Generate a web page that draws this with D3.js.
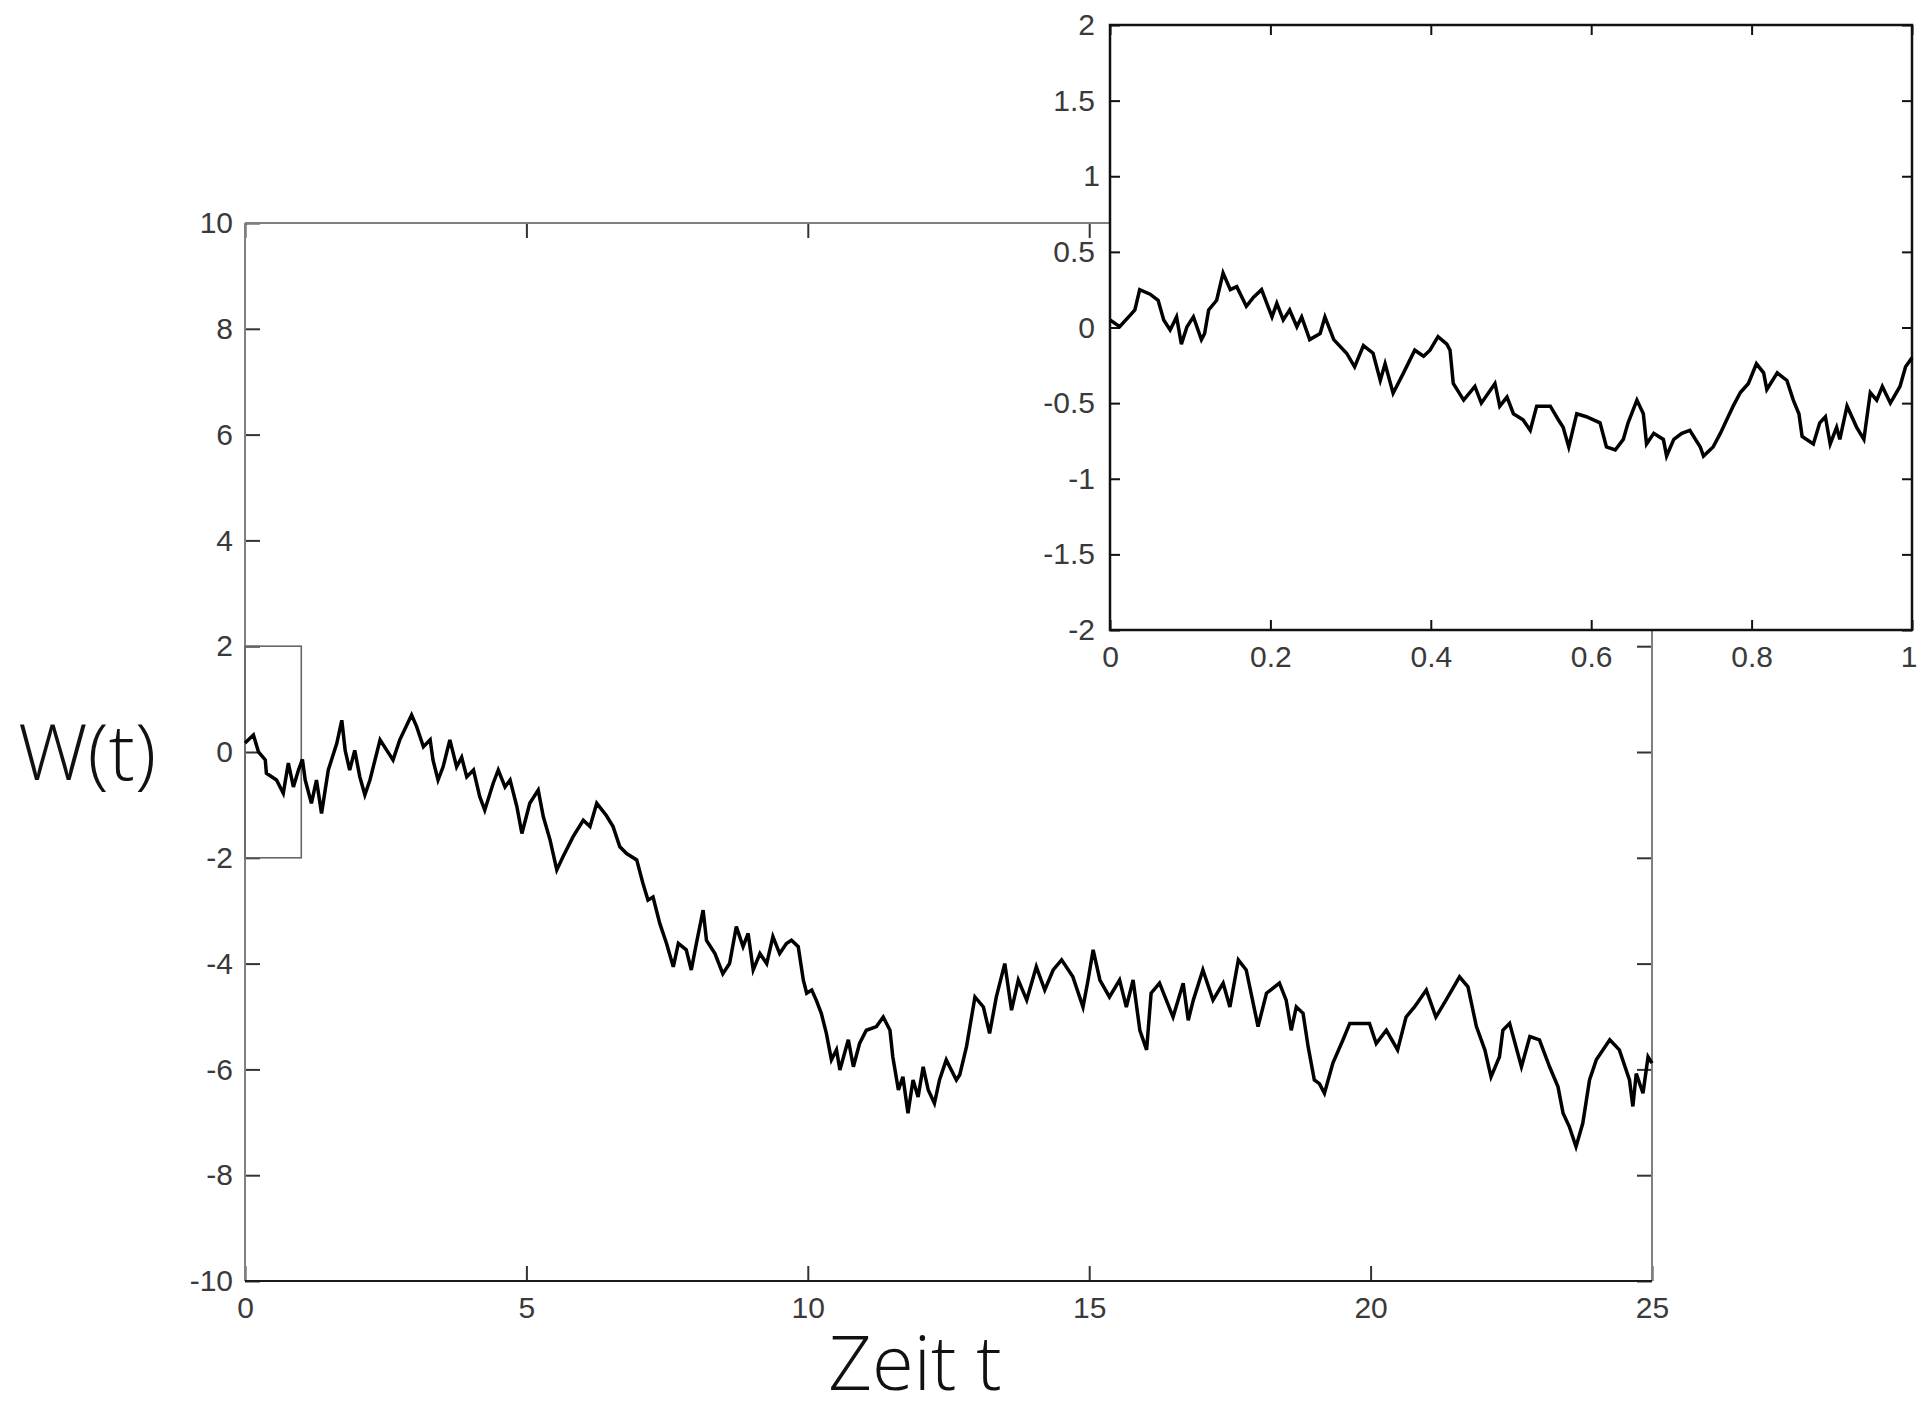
<!DOCTYPE html>
<html>
<head>
<meta charset="utf-8">
<script src="https://cdn.jsdelivr.net/npm/d3@7"></script>
<style>
  html, body { margin: 0; padding: 0; background: #fff; }
  svg { display: block; }
  .tick text { font-family: "Liberation Sans", Arial, sans-serif; font-size: 30px; fill: #3a3a3a; }
  .axis-title { font-family: "Open Sans", Roboto, sans-serif; font-weight: 300; fill: #111; }
</style>
</head>
<body>
<svg id="chart" width="1918" height="1413"></svg>
<script>
// Brownsche Bewegung W(t) auf [0, 25] mit Ausschnitt [0, 1] als Inset.

const mainT = [
  0, 0.15, 0.24, 0.36, 0.38, 0.56, 0.68, 0.77, 0.86, 0.95, 1.02, 1.07, 1.18, 1.27, 1.36, 1.48,
  1.63, 1.72, 1.78, 1.86, 1.95, 2.04, 2.13, 2.22, 2.4, 2.52, 2.63, 2.75, 2.96, 3.05, 3.17, 3.29,
  3.34, 3.43, 3.52, 3.64, 3.76, 3.85, 3.94, 4.06, 4.17, 4.26, 4.41, 4.5, 4.62, 4.71, 4.83, 4.92,
  5.06, 5.21, 5.3, 5.42, 5.54, 5.65, 5.83, 6.01, 6.13, 6.25, 6.42, 6.54, 6.66, 6.78, 6.96, 7.07,
  7.16, 7.25, 7.37, 7.49, 7.61, 7.7, 7.84, 7.93, 8.02, 8.14, 8.2, 8.35, 8.49, 8.61, 8.73, 8.85,
  8.94, 9.03, 9.15, 9.27, 9.38, 9.5, 9.62, 9.71, 9.83, 9.92, 9.98, 10.07, 10.15, 10.24, 10.33, 10.42,
  10.51, 10.57, 10.72, 10.81, 10.92, 11.04, 11.22, 11.34, 11.46, 11.51, 11.61, 11.69, 11.78, 11.87, 11.96, 12.05,
  12.14, 12.25, 12.34, 12.46, 12.55, 12.64, 12.7, 12.82, 12.97, 13.12, 13.23, 13.35, 13.5, 13.62, 13.74, 13.89,
  14.06, 14.21, 14.36, 14.51, 14.71, 14.89, 14.98, 15.07, 15.19, 15.36, 15.54, 15.66, 15.78, 15.9, 16.02, 16.1,
  16.25, 16.49, 16.67, 16.76, 16.85, 17.02, 17.2, 17.38, 17.5, 17.65, 17.79, 18.0, 18.15, 18.38, 18.5, 18.59,
  18.68, 18.8, 18.89, 19.0, 19.09, 19.18, 19.33, 19.51, 19.63, 19.98, 20.1, 20.28, 20.48, 20.63, 20.78, 20.99,
  21.16, 21.34, 21.58, 21.73, 21.88, 22.03, 22.14, 22.29, 22.35, 22.47, 22.68, 22.83, 23.0, 23.18, 23.33, 23.42,
  23.53, 23.65, 23.77, 23.89, 24.01, 24.25, 24.42, 24.6, 24.66, 24.72, 24.84, 24.93, 25.0
];
const mainW = [
  0.17, 0.32, 0.0, -0.15, -0.4, -0.53, -0.78, -0.21, -0.66, -0.34, -0.14, -0.53, -0.97, -0.53, -1.16, -0.34,
  0.16, 0.6, 0.03, -0.34, 0.03, -0.47, -0.81, -0.53, 0.23, 0.03, -0.15, 0.23, 0.7, 0.48, 0.1, 0.23,
  -0.15, -0.53, -0.28, 0.23, -0.28, -0.1, -0.47, -0.34, -0.84, -1.1, -0.59, -0.34, -0.66, -0.53, -1.03, -1.54,
  -0.97, -0.72, -1.22, -1.66, -2.23, -1.98, -1.6, -1.29, -1.41, -0.97, -1.2, -1.41, -1.79, -1.92, -2.04, -2.48,
  -2.8, -2.74, -3.24, -3.62, -4.06, -3.62, -3.74, -4.12, -3.62, -2.99, -3.56, -3.81, -4.19, -4.0, -3.3, -3.68,
  -3.43, -4.12, -3.81, -4.0, -3.49, -3.81, -3.62, -3.56, -3.68, -4.31, -4.56, -4.5, -4.69, -4.94, -5.32, -5.82,
  -5.63, -6.01, -5.44, -5.95, -5.51, -5.26, -5.19, -5.01, -5.26, -5.76, -6.39, -6.14, -6.83, -6.2, -6.52, -5.95,
  -6.39, -6.64, -6.2, -5.82, -6.01, -6.2, -6.1, -5.57, -4.63, -4.82, -5.32, -4.63, -4.0, -4.88, -4.31, -4.69,
  -4.06, -4.5, -4.12, -3.93, -4.25, -4.82, -4.31, -3.74, -4.31, -4.63, -4.31, -4.82, -4.31, -5.26, -5.63, -4.56,
  -4.37, -5.01, -4.37, -5.07, -4.69, -4.12, -4.69, -4.37, -4.82, -3.93, -4.12, -5.19, -4.56, -4.37, -4.69, -5.26,
  -4.82, -4.94, -5.57, -6.2, -6.27, -6.45, -5.88, -5.44, -5.13, -5.13, -5.51, -5.26, -5.63, -5.01, -4.82, -4.5,
  -5.01, -4.69, -4.25, -4.44, -5.19, -5.63, -6.14, -5.76, -5.26, -5.13, -5.95, -5.38, -5.44, -5.95, -6.33, -6.83,
  -7.08, -7.46, -7.02, -6.2, -5.82, -5.44, -5.63, -6.2, -6.7, -6.08, -6.45, -5.76, -5.88
];

const insetT = [
  0, 0.012, 0.025, 0.031, 0.037, 0.05, 0.06, 0.067, 0.075, 0.083, 0.089, 0.096, 0.104, 0.114, 0.118, 0.123,
  0.133, 0.141, 0.15, 0.158, 0.17, 0.179, 0.189, 0.202, 0.208, 0.216, 0.224, 0.233, 0.239, 0.249, 0.262, 0.268,
  0.279, 0.295, 0.305, 0.316, 0.328, 0.337, 0.343, 0.353, 0.366, 0.38, 0.391, 0.399, 0.409, 0.42, 0.424, 0.428,
  0.441, 0.455, 0.463, 0.48, 0.486, 0.495, 0.503, 0.515, 0.524, 0.532, 0.549, 0.559, 0.565, 0.572, 0.582, 0.594,
  0.611, 0.619, 0.63, 0.64, 0.646, 0.657, 0.665, 0.669, 0.678, 0.69, 0.694, 0.703, 0.713, 0.723, 0.736, 0.74,
  0.752, 0.761, 0.769, 0.777, 0.786, 0.796, 0.806, 0.815, 0.819, 0.832, 0.844, 0.852, 0.859, 0.863, 0.877, 0.885,
  0.892, 0.898, 0.906, 0.91, 0.919, 0.931, 0.94, 0.948, 0.956, 0.963, 0.973, 0.985, 0.992, 1.0
];
const insetW = [
  0.05, 0.005, 0.08, 0.116, 0.25, 0.22, 0.18, 0.05, -0.016, 0.07, -0.11, 0.005, 0.07, -0.08, -0.04, 0.116,
  0.18, 0.36, 0.25, 0.27, 0.14, 0.2, 0.25, 0.07, 0.16, 0.05, 0.116, 0.005, 0.07, -0.08, -0.04, 0.07,
  -0.08, -0.17, -0.26, -0.12, -0.17, -0.35, -0.24, -0.435, -0.3, -0.15, -0.19, -0.15, -0.06, -0.11, -0.15, -0.37,
  -0.48, -0.39, -0.5, -0.37, -0.52, -0.46, -0.57, -0.61, -0.68, -0.52, -0.52, -0.61, -0.66, -0.79, -0.57, -0.59,
  -0.63, -0.79, -0.81, -0.74, -0.63, -0.48, -0.57, -0.77, -0.7, -0.74, -0.85, -0.74, -0.7, -0.68, -0.79, -0.85,
  -0.79, -0.7, -0.61, -0.52, -0.43, -0.37, -0.24, -0.3, -0.41, -0.3, -0.35, -0.48, -0.57, -0.72, -0.77, -0.63,
  -0.59, -0.77, -0.66, -0.74, -0.52, -0.66, -0.74, -0.43, -0.48, -0.39, -0.5, -0.39, -0.26, -0.2
];

const mainXTicks = [0, 5, 10, 15, 20, 25];
const mainYTicks = [-10, -8, -6, -4, -2, 0, 2, 4, 6, 8, 10];
const insetXTicks = [0, 0.2, 0.4, 0.6, 0.8, 1];
const insetYTicks = [-2, -1.5, -1, -0.5, 0, 0.5, 1, 1.5, 2];
const zoomWindow = { t0: 0, t1: 1, w0: -2, w1: 2 };

const svg = d3.select("#chart");

// ---------- Hauptplot ----------
const x = d3.scaleLinear().domain([0, 25]).range([245, 1652]);
const y = d3.scaleLinear().domain([-10, 10]).range([1281, 223]);

const mainG = svg.append("g").attr("class", "main");

const fmt = (d) => String(d);

mainG.append("g")
  .attr("transform", `translate(0,${y(-10)})`)
  .call(d3.axisBottom(x).tickValues(mainXTicks).tickFormat(fmt).tickSizeInner(-15).tickSizeOuter(0).tickPadding(16));
mainG.append("g")
  .attr("transform", `translate(${x(0)},0)`)
  .call(d3.axisLeft(y).tickValues(mainYTicks).tickFormat(fmt).tickSizeInner(-15).tickSizeOuter(0).tickPadding(12));
mainG.append("g")
  .attr("transform", `translate(0,${y(10)})`)
  .call(d3.axisTop(x).tickValues(mainXTicks).tickFormat("").tickSizeInner(-15).tickSizeOuter(0));
mainG.append("g")
  .attr("transform", `translate(${x(25)},0)`)
  .call(d3.axisRight(y).tickValues(mainYTicks).tickFormat("").tickSizeInner(-15).tickSizeOuter(0));

mainG.selectAll(".domain").remove();
mainG.selectAll(".tick line").attr("stroke", "#333").attr("stroke-width", 2);

// Rahmen: links/oben/rechts grau, unten dunkel
const frame = [
  { x1: x(0), y1: y(-10), x2: x(0), y2: y(10), c: "#808080" },
  { x1: x(0), y1: y(10), x2: x(25), y2: y(10), c: "#808080" },
  { x1: x(25), y1: y(10), x2: x(25), y2: y(-10), c: "#808080" },
  { x1: x(0), y1: y(-10), x2: x(25), y2: y(-10), c: "#1a1a1a" },
];
mainG.selectAll(".frame")
  .data(frame)
  .join("line")
  .attr("class", "frame")
  .attr("x1", (d) => d.x1).attr("y1", (d) => d.y1)
  .attr("x2", (d) => d.x2).attr("y2", (d) => d.y2)
  .attr("stroke", (d) => d.c)
  .attr("stroke-width", 2);

// Ausschnittsrechteck [0,1] x [-2,2]
mainG.append("rect")
  .attr("x", x(zoomWindow.t0))
  .attr("y", y(zoomWindow.w1))
  .attr("width", x(zoomWindow.t1) - x(zoomWindow.t0))
  .attr("height", y(zoomWindow.w0) - y(zoomWindow.w1))
  .attr("fill", "none")
  .attr("stroke", "#666")
  .attr("stroke-width", 1.6);

const mainLine = d3.line().x((d, i) => x(mainT[i])).y((d) => y(d));
mainG.append("path")
  .datum(mainW)
  .attr("d", mainLine)
  .attr("fill", "none")
  .attr("stroke", "#000")
  .attr("stroke-width", 3.5)
  .attr("stroke-linejoin", "miter");

// Achsentitel
svg.append("text")
  .attr("class", "axis-title")
  .attr("x", 18)
  .attr("y", y(0) + 28)
  .style("font-size", "78px")
  .text("W(t)");
svg.append("text")
  .attr("class", "axis-title")
  .attr("x", 915)
  .attr("y", 1390)
  .attr("text-anchor", "middle")
  .style("font-size", "76px")
  .text("Zeit t");

// ---------- Inset ----------
const ix = d3.scaleLinear().domain([0, 1]).range([1110, 1912]);
const iy = d3.scaleLinear().domain([-2, 2]).range([630, 25]);

const insetG = svg.append("g").attr("class", "inset");

insetG.append("rect")
  .attr("x", ix(0))
  .attr("y", iy(2))
  .attr("width", ix(1) - ix(0))
  .attr("height", iy(-2) - iy(2))
  .attr("fill", "#fff")
  .attr("stroke", "#111")
  .attr("stroke-width", 2.5);

insetG.append("g")
  .attr("transform", `translate(0,${iy(-2)})`)
  .call(d3.axisBottom(ix).tickValues(insetXTicks).tickFormat(fmt).tickSizeInner(-10).tickSizeOuter(0).tickPadding(16));
insetG.append("g")
  .attr("transform", `translate(${ix(0)},0)`)
  .call(d3.axisLeft(iy).tickValues(insetYTicks).tickFormat(fmt).tickSizeInner(-10).tickSizeOuter(0).tickPadding(15));
insetG.append("g")
  .attr("transform", `translate(0,${iy(2)})`)
  .call(d3.axisTop(ix).tickValues(insetXTicks).tickFormat("").tickSizeInner(-10).tickSizeOuter(0));
insetG.append("g")
  .attr("transform", `translate(${ix(1)},0)`)
  .call(d3.axisRight(iy).tickValues(insetYTicks).tickFormat("").tickSizeInner(-10).tickSizeOuter(0));

insetG.selectAll(".domain").remove();
insetG.selectAll(".tick line").attr("stroke", "#111").attr("stroke-width", 2);

// letzte Beschriftung am Bildrand etwas nach links, damit sie sichtbar bleibt
insetG.selectAll(".tick text")
  .filter((d) => d === 1 && insetXTicks.includes(d))
  .attr("text-anchor", "end")
  .attr("dx", 5);

const insetLine = d3.line().x((d, i) => ix(insetT[i])).y((d) => iy(d));
insetG.append("path")
  .datum(insetW)
  .attr("d", insetLine)
  .attr("fill", "none")
  .attr("stroke", "#000")
  .attr("stroke-width", 3.5);
</script>
</body>
</html>
